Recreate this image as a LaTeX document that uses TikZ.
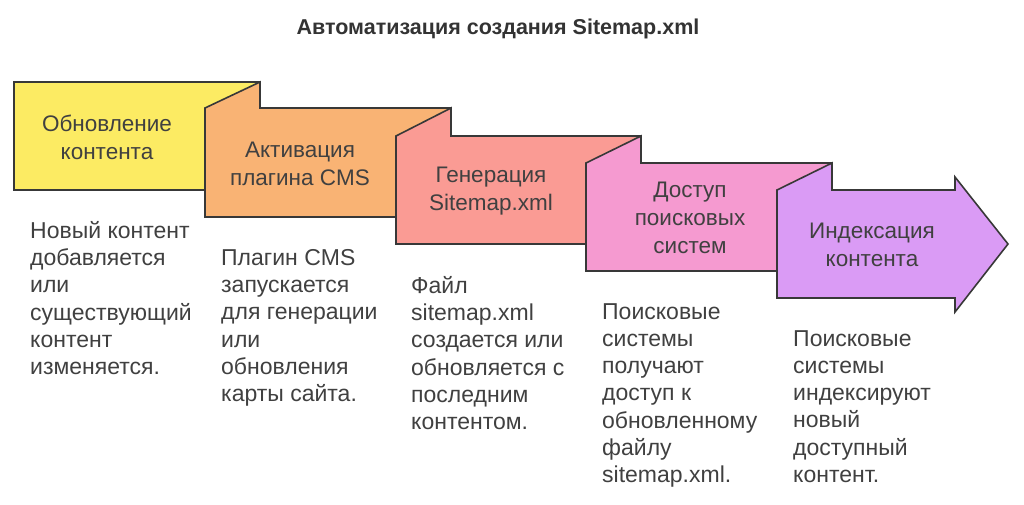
\documentclass[tikz,border=0pt]{standalone}
\usepackage{fontspec}
\setmainfont{Liberation Sans}
\begin{document}
\begin{tikzpicture}[x=1pt,y=-1pt,
  box/.style={draw=black!78,line width=1.6pt,line join=miter},
  lab/.style={align=center,font=\fontsize{22.5}{28}\selectfont,text=black!75},
  desc/.style={align=left,anchor=north west,font=\fontsize{23}{27.3}\selectfont,text=black!75,inner sep=0pt}]
\useasboundingbox (0,0) rectangle (1024,504);
\definecolor{c1}{HTML}{FCEB63}\definecolor{c2}{HTML}{F9B374}\definecolor{c3}{HTML}{FA9B94}
\definecolor{c4}{HTML}{F59AD0}\definecolor{c5}{HTML}{DA9BF5}
\node[font=\bfseries\fontsize{21.5}{24}\selectfont,text=black!80] (title) at (498,29) {Автоматизация создания Sitemap.xml};
\draw[box,fill=c1] (14,82) rectangle (260,190);
\draw[box,fill=c2] (205,108) -- (260,82) -- (260,108) -- (451,108) -- (451,217) -- (205,217) -- cycle;
\draw[box,fill=c3] (396,136) -- (451,108) -- (451,136) -- (641,136) -- (641,244) -- (396,244) -- cycle;
\draw[box,fill=c4] (586,163) -- (641,136) -- (641,163) -- (832,163) -- (832,271) -- (586,271) -- cycle;
\draw[box,fill=c5] (777,190) -- (832,163) -- (832,190) -- (955,190) -- (955,177) -- (1008,244) -- (955,312) -- (955,298) -- (777,298) -- cycle;
\node[lab] (b1) at (107,137) {Обновление\\контента};
\node[lab] (b2) at (300,164) {Активация\\плагина CMS};
\node[lab] (b3) at (491,191) {Генерация\\Sitemap.xml};
\node[lab] (b4) at (690,218) {Доступ\\поисковых\\систем};
\node[lab] (b5) at (872,245) {Индексация\\контента};
\node[desc] (d1) at (30,221) {Новый контент\\добавляется\\или\\существующий\\контент\\изменяется.};
\node[desc] (d2) at (221,249) {Плагин CMS\\запускается\\для генерации\\или\\обновления\\карты сайта.};
\node[desc] (d3) at (411,276) {Файл\\sitemap.xml\\создается или\\обновляется с\\последним\\контентом.};
\node[desc] (d4) at (602,303) {Поисковые\\системы\\получают\\доступ к\\обновленному\\файлу\\sitemap.xml.};
\node[desc] (d5) at (793,330) {Поисковые\\системы\\индексируют\\новый\\доступный\\контент.};
\end{tikzpicture}
\end{document}
